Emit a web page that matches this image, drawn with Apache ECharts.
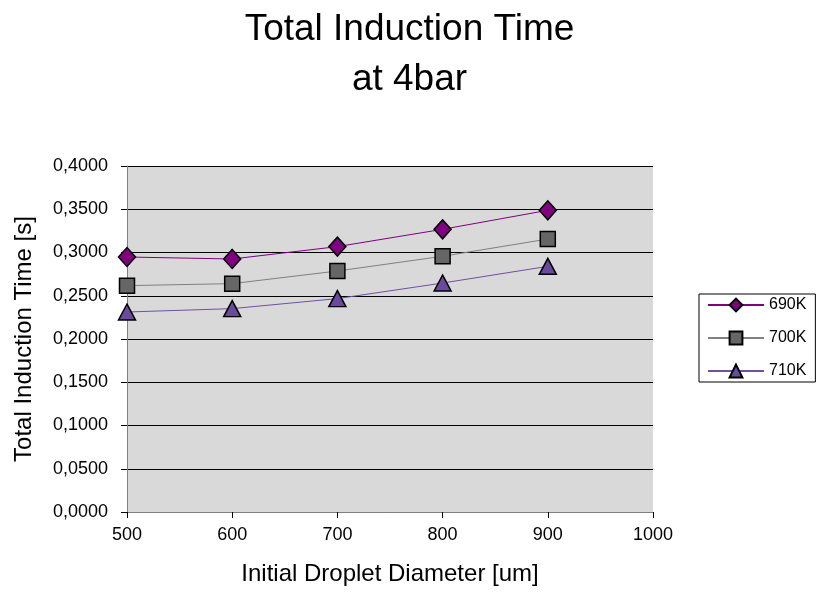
<!DOCTYPE html>
<html>
<head>
<meta charset="utf-8">
<script src="https://cdn.jsdelivr.net/npm/echarts@6/dist/echarts.min.js"></script>
<style>
  html, body { margin: 0; padding: 0; background: #fff; }
  #chart { width: 819px; height: 594px; }
</style>
</head>
<body>
<div id="chart"></div>
<script>
// Droplet diameters [um]
const diameters = [500, 600, 700, 800, 900];
// Total induction time [s] per ambient temperature
const t690K = [0.2948, 0.2925, 0.3068, 0.3268, 0.3488];
const t700K = [0.2617, 0.2640, 0.2786, 0.2956, 0.3156];
const t710K = [0.2312, 0.2351, 0.2467, 0.2647, 0.2840];
const seriesNames = ['690K', '700K', '710K'];

const FONT = 'Liberation Sans, Arial, sans-serif';

function pairs(vals) {
  return diameters.map((d, i) => [d, vals[i]]);
}

const chart = echarts.init(document.getElementById('chart'), null, { renderer: 'canvas' });

const markerBorder = { borderColor: '#000', borderWidth: 1.5 };

chart.setOption({
  animation: false,
  backgroundColor: '#fff',
  textStyle: { fontFamily: FONT, color: '#000' },
  title: {
    text: 'Total Induction Time\nat 4bar',
    left: 'center',
    top: 0,
    textStyle: { fontFamily: FONT, fontSize: 37, fontWeight: 'normal', color: '#000', lineHeight: 50 }
  },
  legend: {
    orient: 'vertical',
    left: 699,
    top: 294,
    padding: [3, 9, 3, 8],
    itemWidth: 56,
    itemHeight: 16,
    itemGap: 17,
    backgroundColor: '#fff',
    borderColor: '#000',
    borderWidth: 1,
    textStyle: { fontFamily: FONT, fontSize: 16, color: '#000' },
    data: seriesNames
  },
  grid: {
    left: 127,
    right: 166,
    top: 166,
    bottom: 82,
    show: true,
    backgroundColor: '#d9d9d9',
    borderWidth: 0
  },
  xAxis: {
    type: 'value',
    min: 500,
    max: 1000,
    interval: 100,
    name: 'Initial Droplet Diameter [um]',
    nameLocation: 'middle',
    nameGap: 50,
    nameTextStyle: { fontFamily: FONT, fontSize: 24, color: '#000' },
    axisLine: { show: true, lineStyle: { color: '#808080', width: 1 } },
    axisTick: { show: true, inside: false, length: 6, lineStyle: { color: '#000' } },
    axisLabel: { fontFamily: FONT, fontSize: 18, color: '#000', margin: 14, formatter: v => String(v) },
    splitLine: { show: false }
  },
  yAxis: {
    type: 'value',
    min: 0,
    max: 0.4,
    interval: 0.05,
    name: 'Total Induction Time [s]',
    nameLocation: 'middle',
    nameGap: 91,
    nameTextStyle: { fontFamily: FONT, fontSize: 24, color: '#000' },
    axisLine: { show: true, lineStyle: { color: '#808080', width: 1 } },
    axisTick: { show: true, inside: false, length: 6, lineStyle: { color: '#000' } },
    axisLabel: {
      fontFamily: FONT, fontSize: 18, color: '#000', margin: 19,
      formatter: v => v.toFixed(4).replace('.', ',')
    },
    splitLine: { show: true, lineStyle: { color: '#000', width: 1 } }
  },
  series: [
    {
      name: seriesNames[0],
      type: 'line',
      data: pairs(t690K),
      symbol: 'diamond',
      symbolSize: [17, 19],
      lineStyle: { color: '#800080', width: 1 },
      itemStyle: Object.assign({ color: '#800080' }, markerBorder),
      z: 4
    },
    {
      name: seriesNames[1],
      type: 'line',
      data: pairs(t700K),
      symbol: 'rect',
      symbolSize: 15,
      lineStyle: { color: '#808080', width: 1 },
      itemStyle: Object.assign({ color: '#666666' }, markerBorder),
      z: 3
    },
    {
      name: seriesNames[2],
      type: 'line',
      data: pairs(t710K),
      symbol: 'triangle',
      symbolSize: [17, 16],
      lineStyle: { color: '#7050a0', width: 1 },
      itemStyle: Object.assign({ color: '#6a4a9c' }, markerBorder),
      z: 2
    }
  ]
});
</script>
</body>
</html>
